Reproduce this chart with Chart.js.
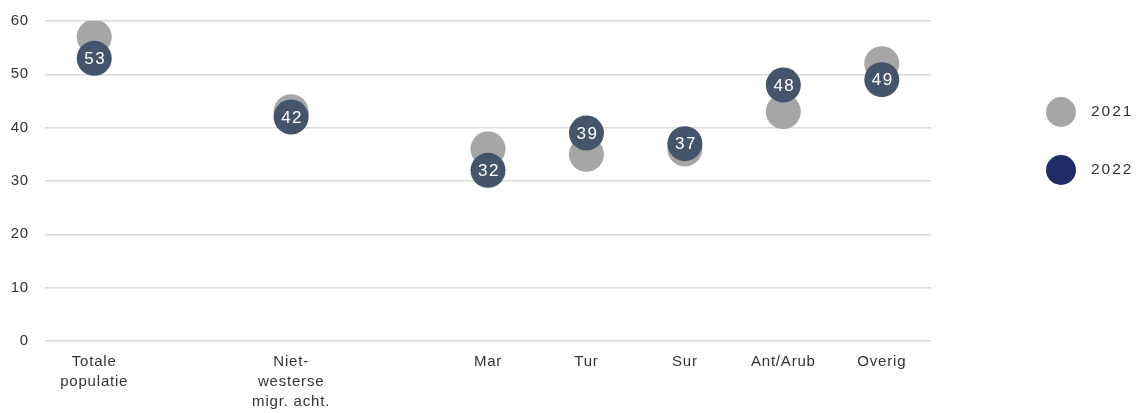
<!DOCTYPE html>
<html>
<head>
<meta charset="utf-8">
<script src="https://cdn.jsdelivr.net/npm/chart.js@4"></script>
<style>
  html, body { margin: 0; padding: 0; background: #ffffff; }
  #wrap { position: relative; width: 1136px; height: 413px; }
</style>
</head>
<body>
<div id="wrap"><canvas id="c" width="1136" height="413"></canvas></div>
<script>
// ---- Data ----
const categories = [["Totale", "populatie"], "", ["Niet-", "westerse", "migr. acht."], "", "Mar", "Tur", "Sur", "Ant/Arub", "Overig"];
const seriesNames = ["2021", "2022"];
const values2021 = [57, null, 43, null, 36, 35, 36, 43, 52];
const values2022 = [53, null, 42, null, 32, 39, 37, 48, 49];
const yTicks = [0, 10, 20, 30, 40, 50, 60];

// ---- Styles ----
const FONT = "'Liberation Sans', Arial, sans-serif";
const TEXT = "#333333";

const spacingPlugin = {
  id: "spacing",
  beforeLayout(chart) { chart.ctx.letterSpacing = "0.8px"; },
  beforeDraw(chart) { chart.ctx.letterSpacing = "0.8px"; }
};

const labelPlugin = {
  id: "pointLabels",
  afterDatasetsDraw(chart) {
    const ctx = chart.ctx;
    const meta = chart.getDatasetMeta(1);
    const ds = chart.data.datasets[1];
    ctx.save();
    ctx.letterSpacing = "1.5px";
    ctx.font = "17px " + FONT;
    ctx.fillStyle = "#ffffff";
    ctx.textAlign = "center";
    ctx.textBaseline = "middle";
    meta.data.forEach((pt, i) => {
      const v = ds.data[i];
      if (v === null || v === undefined) return;
      ctx.fillText(String(v), pt.x + 1, pt.y + 1);
    });
    ctx.restore();
  }
};

const legendPlugin = {
  id: "customLegend",
  afterDraw(chart) {
    const ctx = chart.ctx;
    const x = chart.chartArea.right + 130;
    let y = 112;
    ctx.save();
    ctx.letterSpacing = "2px";
    ctx.font = "15.5px " + FONT;
    ctx.textAlign = "left";
    ctx.textBaseline = "middle";
    chart.data.datasets.forEach(ds => {
      ctx.beginPath();
      ctx.arc(x, y, 15, 0, Math.PI * 2);
      ctx.fillStyle = ds.legendColor;
      ctx.fill();
      ctx.fillStyle = TEXT;
      ctx.fillText(ds.label, x + 30, y);
      y += 58;
    });
    ctx.restore();
  }
};

new Chart(document.getElementById("c"), {
  type: "line",
  data: {
    labels: categories,
    datasets: [
      {
        label: seriesNames[0],
        data: values2021,
        showLine: false,
        pointRadius: 17.5,
        pointHoverRadius: 17.5,
        pointBackgroundColor: "#a6a6a6",
        pointBorderWidth: 0,
        borderColor: "#a6a6a6",
        legendColor: "#a6a6a6",
        order: 1
      },
      {
        label: seriesNames[1],
        data: values2022,
        showLine: false,
        pointRadius: 17.5,
        pointHoverRadius: 17.5,
        pointBackgroundColor: "#44546a",
        pointBorderWidth: 0,
        borderColor: "#44546a",
        legendColor: "#1f2d66",
        order: 0
      }
    ]
  },
  options: {
    responsive: false,
    animation: false,
    events: [],
    layout: { autoPadding: false, padding: { top: 21, right: 205, left: 0, bottom: 0 } },
    plugins: {
      legend: { display: false },
      tooltip: { enabled: false }
    },
    scales: {
      x: {
        offset: true,
        grid: { display: false, drawTicks: false },
        border: { display: false },
        ticks: {
          autoSkip: false,
          maxRotation: 0,
          padding: 11,
          color: TEXT,
          font: { family: FONT, size: 15, lineHeight: 1.33 }
        },
        afterFit(scale) { scale.height = 72; }
      },
      y: {
        min: 0,
        max: 60,
        afterBuildTicks(scale) { scale.ticks = yTicks.map(v => ({ value: v })); },
        grid: { color: "#d9d9d9", lineWidth: 1.5, drawTicks: false },
        border: { display: false },
        ticks: {
          padding: 16,
          color: TEXT,
          font: { family: FONT, size: 15 }
        },
        afterFit(scale) {
          scale.width = 45;
          scale.paddingTop = 0;
          scale.paddingBottom = 0;
        }
      }
    }
  },
  plugins: [spacingPlugin, labelPlugin, legendPlugin]
});
</script>
</body>
</html>
